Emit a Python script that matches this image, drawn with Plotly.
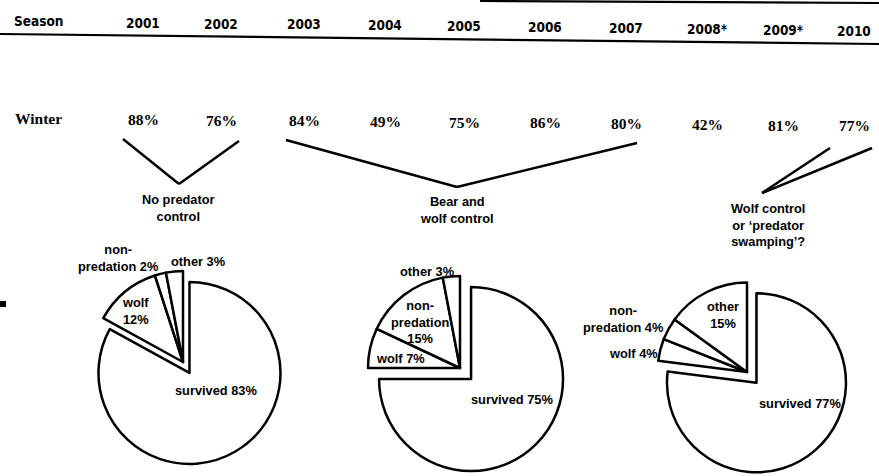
import plotly.graph_objects as go

# ---------------- data ----------------
seasons = ["2001", "2002", "2003", "2004", "2005", "2006", "2007", "2008*", "2009*", "2010"]
winter_survival = [88, 76, 84, 49, 75, 86, 80, 42, 81, 77]

causes = ["survived", "wolf", "non-predation", "other"]
pie_no_control = [83, 12, 2, 3]
pie_bear_wolf = [75, 7, 15, 3]
pie_wolf_swamp = [77, 4, 4, 15]
period_titles = ["No predator<br>control", "Bear and<br>wolf control",
                 "Wolf control<br>or \u2018predator<br>swamping\u2019?"]

# ---------------- layout helpers ----------------
W, H = 879, 476
col_x = [143, 221, 304, 385, 464, 545, 626, 707, 783, 854]

HEAD_FONT = dict(family="DejaVu Sans Condensed, DejaVu Sans", size=13.5, color="black")
ROW_FONT = dict(family="Liberation Serif, Times New Roman, serif", size=15.5, color="black")
LAB_FONT = dict(family="Liberation Sans, Arial, sans-serif", size=12.8, color="black")

fig = go.Figure()

# invisible pixel-space axes for the table and annotations
fig.add_trace(go.Scatter(x=[0, W], y=[0, H], mode="markers",
                         marker=dict(opacity=0), hoverinfo="skip", showlegend=False))

annotations = []

def txt(x, y, s, font, xanchor="center"):
    annotations.append(dict(x=x, y=y, xref="x", yref="y", text=s, showarrow=False,
                            font=font, xanchor=xanchor, yanchor="middle", align="center"))

# header row
txt(38, 21, "<b>Season</b>", HEAD_FONT)
for x, s in zip(col_x, seasons):
    txt(x, 21 + x / W * 10, "<b>" + s + "</b>", HEAD_FONT)

# winter row
txt(38, 118, "<b>Winter</b>", ROW_FONT)
for x, v in zip(col_x, winter_survival):
    txt(x, 118 + x / W * 8, "<b>%d%%</b>" % v, ROW_FONT)

# period titles
title_pos = [(178, 208), (457, 210), (768, 225)]
for (x, y), t in zip(title_pos, period_titles):
    txt(x, y, "<b>" + t + "</b>", LAB_FONT)

# pies: (values, center px, radius px, pull, label positions, separators)
pies = [
    (pie_no_control, (183, 362), 91, 0.14,
     [(216, 390), (135, 311), (118, 258), (198, 261)],
     [" ", "<br>", " ", " "]),
    (pie_bear_wolf, (460, 368), 92, 0.17,
     [(512, 399), (400, 358), (420, 322), (427, 271)],
     [" ", " ", "<br>", " "]),
    (pie_wolf_swamp, (747, 372), 89.5, 0.16,
     [(800, 403), (633, 353), (623, 319), (723, 315)],
     [" ", " ", " ", "<br>"]),
]

for vals, (cx, cy), r, p, lpos, seps in pies:
    s = 2 * r * (1 + p)
    fig.add_trace(go.Pie(
        labels=causes, values=vals, sort=False, direction="clockwise", rotation=0,
        pull=[p, 0, 0, 0], textinfo="none", hoverinfo="skip", showlegend=False,
        marker=dict(colors=["white"] * 4, line=dict(color="black", width=2.5)),
        domain=dict(x=[(cx - s / 2) / W, (cx + s / 2) / W],
                    y=[1 - (cy + s / 2) / H, 1 - (cy - s / 2) / H]),
    ))
    for c, v, (lx, ly), sep in zip(causes, vals, lpos, seps):
        name = c.replace("non-", "non-<br>")
        txt(lx, ly, "<b>%s%s%d%%</b>" % (name, sep, v), LAB_FONT)

# lines
def line(x0, y0, x1, y1, w=2.5):
    return dict(type="line", xref="x", yref="y", x0=x0, y0=y0, x1=x1, y1=y1,
                line=dict(color="black", width=w))

shapes = [
    line(0, 34, W, 44, 2.2),
    line(480, 1, W, 3, 2.2),
    line(123, 139, 179, 184), line(179, 184, 239, 141),
    line(286, 140, 457, 187), line(457, 187, 637, 143),
    line(830, 148, 762, 193), line(872, 148, 762, 193),
    dict(type="rect", xref="x", yref="y", x0=0, y0=301, x1=6, y1=307,
         line=dict(width=0), fillcolor="black"),
]

fig.update_layout(
    width=W, height=H, margin=dict(l=0, r=0, t=0, b=0),
    paper_bgcolor="white", plot_bgcolor="white",
    xaxis=dict(range=[0, W], visible=False, fixedrange=True),
    yaxis=dict(range=[H, 0], visible=False, fixedrange=True),
    annotations=annotations, shapes=shapes, showlegend=False,
)

fig.write_html("out.html", config={"displayModeBar": False},
               post_script="document.body.style.margin='0px';document.body.style.overflow='hidden';")
